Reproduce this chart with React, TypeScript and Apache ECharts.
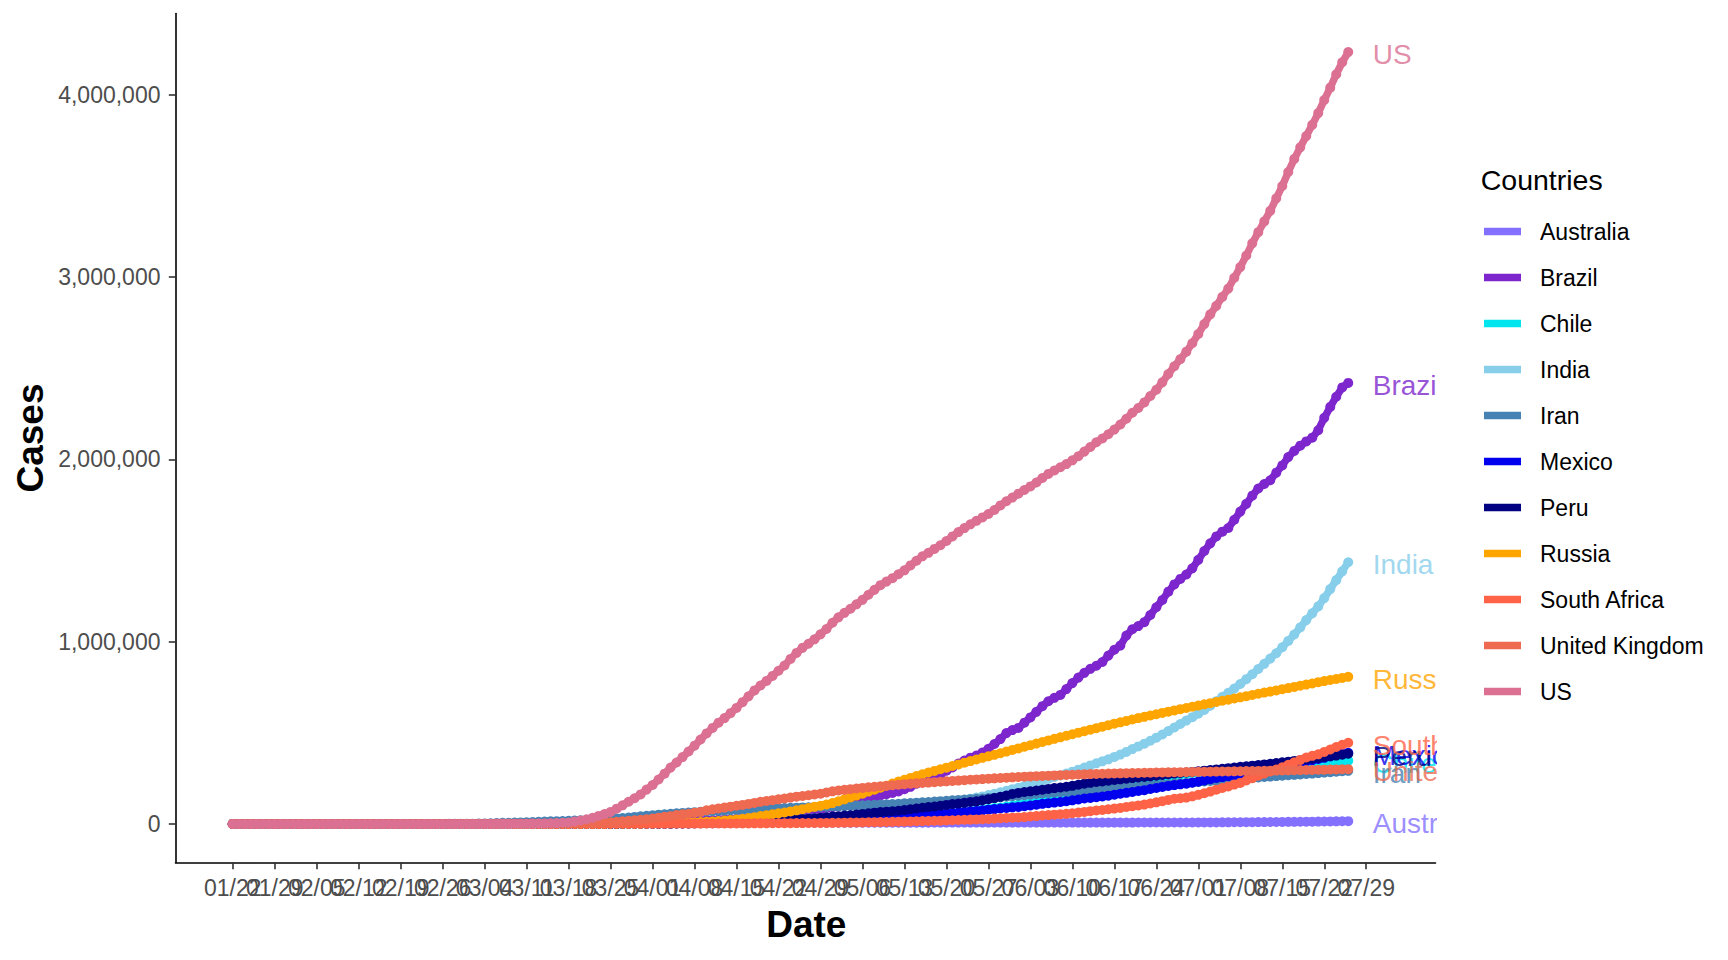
import React, { useEffect, useRef } from "react";
import * as echarts from "echarts";

// Cumulative confirmed cases, in thousands, one value per day from 01/22 to 07/26
const australia = [
  0, 0, 0, 0, 0, 0, 0, 0, 0, 0,
  0, 0, 0, 0, 0, 0, 0, 0, 0, 0, 0, 0, 0, 0, 0, 0, 0, 0, 0, 0, 0, 0, 0, 0, 0, 0, 0, 0, 0,
  0, 0, 0, 0, 0, 0, 0, 0, 0, 0, 0, 0, 0.2, 0.2, 0.3, 0.4, 0.5, 0.6, 0.7, 0.9, 1.1, 1.3, 1.7, 2.1, 2.4, 2.8, 3.2, 3.6, 3.9, 4.2, 4.6,
  4.9, 5.1, 5.3, 5.5, 5.7, 5.8, 5.9, 6.0, 6.1, 6.2, 6.3, 6.3, 6.4, 6.4, 6.5, 6.5, 6.5, 6.6, 6.6, 6.6, 6.6, 6.7, 6.7, 6.7, 6.7, 6.7, 6.7, 6.7, 6.7, 6.8,
  6.8, 6.8, 6.8, 6.8, 6.9, 6.9, 6.9, 6.9, 6.9, 6.9, 6.9, 6.9, 7.0, 7.0, 7.0, 7.0, 7.0, 7.1, 7.1, 7.1, 7.1, 7.1, 7.1, 7.1, 7.1, 7.1, 7.1, 7.1, 7.2, 7.2, 7.2,
  7.2, 7.2, 7.2, 7.2, 7.2, 7.3, 7.3, 7.3, 7.3, 7.3, 7.3, 7.3, 7.3, 7.3, 7.4, 7.4, 7.4, 7.4, 7.4, 7.4, 7.5, 7.5, 7.5, 7.5, 7.6, 7.6, 7.7, 7.8, 7.8, 7.9,
  8.0, 8.1, 8.3, 8.4, 8.6, 8.8, 8.9, 9.1, 9.4, 9.6, 9.8, 10.0, 10.3, 10.5, 10.8, 11.2, 11.4, 11.8, 12.1, 12.4, 12.9, 13.3, 13.6, 14.0, 14.4, 14.9,
];

const brazil = [
  0, 0, 0, 0, 0, 0, 0, 0, 0, 0,
  0, 0, 0, 0, 0, 0, 0, 0, 0, 0, 0, 0, 0, 0, 0, 0, 0, 0, 0, 0, 0, 0, 0, 0, 0, 0, 0, 0, 0,
  0, 0, 0, 0, 0, 0, 0, 0, 0, 0, 0, 0, 0.2, 0.2, 0.2, 0.2, 0.3, 0.4, 0.6, 0.9, 1.0, 1.5, 1.9, 2.2, 2.4, 2.9, 3.4, 3.9, 4.3, 4.6, 5.7,
  6.8, 8.0, 9.2, 10.9, 11.1, 12.2, 14.0, 16.2, 18.1, 19.6, 20.7, 22.2, 23.4, 25.3, 28.3, 30.4, 33.7, 36.6, 38.7, 40.7, 43.1, 45.8, 50.0, 54.0, 59.3, 61.9, 66.5, 72.0, 79.4, 87.2,
  92.2, 97.1, 101.8, 108.6, 115.0, 126.6, 135.8, 146.9, 156.1, 162.7, 169.6, 178.2, 190.1, 203.2, 220.3, 233.5, 241.1, 255.4, 271.6, 291.6, 310.1, 330.9, 347.4, 363.2, 374.9, 391.2, 411.8, 438.2, 465.2, 498.4, 514.8,
  526.4, 555.4, 584.0, 614.9, 645.8, 672.8, 691.8, 707.4, 739.5, 772.4, 802.8, 828.8, 850.5, 867.6, 888.3, 923.2, 955.4, 978.1, 1032.9, 1067.6, 1085.0, 1106.5, 1145.9, 1188.6, 1228.1, 1274.0, 1313.7, 1344.1, 1368.2, 1402.0,
  1448.8, 1496.9, 1539.1, 1577.0, 1603.1, 1623.3, 1668.6, 1713.2, 1755.8, 1800.8, 1839.9, 1864.7, 1885.0, 1926.8, 1966.7, 2012.2, 2046.3, 2074.9, 2098.4, 2118.6, 2159.7, 2227.5, 2287.5, 2343.4, 2394.5, 2419.1,
];

const chile = [
  0, 0, 0, 0, 0, 0, 0, 0, 0, 0,
  0, 0, 0, 0, 0, 0, 0, 0, 0, 0, 0, 0, 0, 0, 0, 0, 0, 0, 0, 0, 0, 0, 0, 0, 0, 0, 0, 0, 0,
  0, 0, 0, 0, 0, 0, 0, 0, 0, 0, 0, 0, 0, 0.1, 0.1, 0.2, 0.2, 0.2, 0.3, 0.4, 0.5, 0.6, 0.7, 0.9, 1.1, 1.3, 1.6, 1.9, 2.1, 2.4, 2.7,
  3.0, 3.4, 3.7, 4.2, 4.5, 4.8, 5.1, 5.5, 5.5, 6.0, 6.5, 6.9, 7.2, 7.5, 7.9, 8.3, 8.8, 9.3, 9.7, 10.1, 10.5, 10.8, 11.3, 11.8, 12.3, 12.9, 13.3, 13.8, 14.4, 14.9,
  16.0, 17.0, 18.4, 19.7, 20.6, 22.0, 23.0, 24.6, 26.0, 27.2, 28.9, 30.1, 31.7, 34.4, 37.9, 39.5, 43.8, 46.1, 49.6, 53.6, 57.6, 61.9, 65.4, 69.1, 74.0, 78.0, 82.3, 86.9, 90.6, 94.9, 99.7,
  105.2, 108.7, 113.6, 118.3, 122.5, 127.7, 134.2, 138.8, 142.8, 148.5, 154.1, 160.8, 167.4, 174.3, 179.4, 184.4, 220.6, 225.1, 231.4, 236.7, 242.4, 247.0, 250.8, 254.4, 259.1, 263.4, 267.8, 272.0, 275.6, 279.4,
  282.0, 284.5, 288.1, 291.8, 295.5, 298.6, 301.0, 303.1, 306.2, 309.3, 312.0, 315.0, 317.7, 319.5, 321.2, 323.7, 326.5, 328.8, 330.9, 333.0, 334.7, 336.4, 338.8, 341.3, 343.6, 345.8,
];

const india = [
  0, 0, 0, 0, 0, 0, 0, 0, 0, 0,
  0, 0, 0, 0, 0, 0, 0, 0, 0, 0, 0, 0, 0, 0, 0, 0, 0, 0, 0, 0, 0, 0, 0, 0, 0, 0, 0, 0, 0,
  0, 0, 0, 0, 0, 0, 0, 0, 0, 0, 0, 0, 0, 0, 0.1, 0.1, 0.1, 0.2, 0.2, 0.3, 0.4, 0.4, 0.5, 0.6, 0.7, 0.7, 0.9, 1.0, 1.0, 1.3, 1.4,
  2.0, 2.5, 3.1, 3.6, 4.3, 4.8, 5.3, 5.9, 6.7, 7.6, 8.4, 9.2, 10.5, 11.5, 12.4, 13.4, 14.4, 15.7, 17.6, 18.5, 20.1, 21.4, 23.1, 24.5, 26.3, 27.9, 29.5, 31.3, 33.1, 34.9,
  37.3, 39.7, 42.5, 46.4, 49.4, 52.9, 56.3, 59.7, 62.8, 67.2, 70.8, 74.3, 78.1, 82.0, 85.8, 90.6, 95.7, 100.3, 106.5, 112.0, 118.2, 124.8, 131.4, 138.5, 144.9, 150.8, 158.1, 165.4, 173.5, 181.8, 190.6,
  198.4, 207.6, 216.9, 226.7, 236.2, 246.6, 257.5, 265.9, 276.1, 286.6, 297.5, 309.0, 320.9, 332.4, 343.1, 354.1, 367.3, 380.5, 395.0, 410.5, 425.3, 440.2, 456.2, 473.1, 490.4, 509.0, 528.9, 548.3, 566.8, 585.5,
  604.6, 625.5, 648.3, 673.2, 697.4, 719.7, 742.4, 767.3, 793.8, 820.9, 849.6, 878.3, 906.8, 936.2, 968.9, 1003.8, 1039.1, 1077.9, 1118.0, 1155.3, 1193.1, 1238.6, 1288.1, 1337.0, 1385.5, 1435.5,
];

const iran = [
  0, 0, 0, 0, 0, 0, 0, 0, 0, 0,
  0, 0, 0, 0, 0, 0, 0, 0, 0, 0, 0, 0, 0, 0, 0, 0, 0, 0, 0, 0, 0, 0, 0, 0, 0.1, 0.1, 0.2, 0.4, 0.6,
  1.0, 1.5, 2.3, 2.9, 3.5, 4.7, 5.8, 6.6, 7.2, 8.0, 9.0, 10.1, 11.4, 12.7, 13.9, 15.0, 16.2, 17.4, 18.4, 19.6, 20.6, 21.6, 23.0, 24.8, 27.0, 29.4, 32.3, 35.4, 38.3, 41.5, 44.6,
  47.6, 50.5, 53.2, 55.7, 58.2, 60.5, 62.6, 64.6, 66.2, 68.2, 70.0, 71.7, 73.3, 74.9, 76.4, 78.0, 79.5, 80.9, 82.2, 83.5, 84.8, 86.0, 87.0, 88.2, 89.3, 90.5, 91.5, 92.6, 93.7, 94.6,
  95.6, 96.4, 97.4, 98.6, 100.0, 101.7, 103.1, 104.7, 106.2, 107.6, 109.3, 110.8, 112.7, 114.5, 116.6, 118.4, 120.2, 122.5, 124.6, 126.9, 129.3, 131.7, 133.5, 135.7, 137.7, 139.5, 141.6, 143.8, 146.7, 149.0, 151.5,
  154.4, 157.6, 160.7, 164.3, 167.2, 169.4, 171.8, 173.8, 175.9, 177.9, 180.2, 182.5, 185.0, 187.4, 189.9, 192.4, 195.1, 197.6, 200.3, 202.6, 205.0, 207.5, 210.0, 212.5, 215.1, 217.7, 220.2, 222.7, 225.2, 227.7,
  230.2, 232.9, 235.4, 237.9, 240.4, 243.1, 245.7, 248.4, 250.5, 252.7, 255.1, 257.3, 259.7, 262.2, 264.6, 267.1, 269.4, 271.6, 273.8, 276.2, 278.8, 281.4, 284.0, 286.5, 288.8, 291.2,
];

const mexico = [
  0, 0, 0, 0, 0, 0, 0, 0, 0, 0,
  0, 0, 0, 0, 0, 0, 0, 0, 0, 0, 0, 0, 0, 0, 0, 0, 0, 0, 0, 0, 0, 0, 0, 0, 0, 0, 0, 0, 0,
  0, 0, 0, 0, 0, 0, 0, 0, 0, 0, 0, 0, 0, 0, 0, 0, 0, 0.1, 0.1, 0.2, 0.2, 0.3, 0.3, 0.4, 0.4, 0.6, 0.7, 0.8, 0.8, 1.0, 1.2,
  1.4, 1.5, 1.7, 1.9, 2.1, 2.4, 2.8, 3.2, 3.4, 3.8, 4.2, 4.4, 4.7, 5.0, 5.4, 5.8, 6.3, 6.9, 7.5, 8.3, 8.8, 9.5, 10.5, 11.6, 12.9, 13.8, 14.7, 15.5, 16.8, 19.2,
  20.7, 22.1, 23.5, 24.9, 26.0, 27.6, 29.6, 31.5, 33.5, 35.0, 36.3, 38.3, 40.2, 42.6, 45.0, 47.1, 49.2, 51.6, 54.3, 56.6, 59.6, 62.5, 65.9, 68.6, 71.1, 74.6, 78.0, 81.4, 84.6, 87.5, 90.7,
  93.4, 97.3, 101.2, 105.7, 110.0, 113.6, 117.1, 120.1, 124.3, 129.2, 134.0, 139.2, 142.7, 146.8, 150.3, 154.9, 159.8, 165.5, 170.5, 175.2, 180.5, 185.1, 191.4, 196.8, 203.0, 208.4, 212.8, 216.9, 220.7, 226.1,
  231.8, 238.5, 245.3, 252.2, 256.8, 261.8, 268.0, 275.0, 282.3, 289.2, 295.3, 299.8, 304.4, 311.5, 317.6, 324.0, 331.3, 338.9, 344.2, 349.4, 356.3, 362.3, 370.7, 378.3, 385.0, 390.5,
];

const peru = [
  0, 0, 0, 0, 0, 0, 0, 0, 0, 0,
  0, 0, 0, 0, 0, 0, 0, 0, 0, 0, 0, 0, 0, 0, 0, 0, 0, 0, 0, 0, 0, 0, 0, 0, 0, 0, 0, 0, 0,
  0, 0, 0, 0, 0, 0, 0, 0, 0, 0, 0, 0, 0, 0, 0, 0, 0.1, 0.1, 0.2, 0.2, 0.3, 0.3, 0.4, 0.4, 0.5, 0.6, 0.6, 0.7, 0.9, 1.0, 1.1,
  1.3, 1.4, 1.6, 1.7, 2.3, 2.6, 3.0, 4.3, 5.3, 5.9, 6.8, 7.5, 9.8, 10.3, 11.5, 12.5, 13.5, 14.4, 15.6, 16.3, 17.8, 19.3, 20.9, 21.6, 25.3, 27.5, 28.7, 31.2, 33.9, 37.0,
  40.5, 42.5, 45.9, 47.4, 51.2, 54.8, 58.5, 61.8, 65.0, 67.3, 68.8, 72.1, 76.3, 80.6, 84.5, 88.5, 92.3, 94.9, 99.5, 104.0, 108.8, 111.7, 115.8, 120.0, 124.0, 129.8, 135.9, 141.8, 148.3, 155.7, 164.5,
  170.0, 174.9, 178.9, 183.2, 187.4, 191.8, 196.5, 199.7, 203.7, 208.8, 214.8, 220.7, 225.1, 229.7, 233.0, 237.2, 240.9, 244.4, 247.9, 251.3, 254.9, 257.4, 260.8, 264.7, 268.6, 272.4, 276.0, 279.4, 282.4, 285.2,
  288.5, 292.0, 295.6, 299.1, 302.7, 305.7, 309.3, 312.9, 316.4, 319.6, 322.7, 326.3, 330.1, 333.9, 337.7, 341.6, 345.5, 349.5, 353.6, 357.7, 362.1, 366.6, 371.1, 375.0, 379.9, 384.8,
];

const russia = [
  0, 0, 0, 0, 0, 0, 0, 0, 0, 0,
  0, 0, 0, 0, 0, 0, 0, 0, 0, 0, 0, 0, 0, 0, 0, 0, 0, 0, 0, 0, 0, 0, 0, 0, 0, 0, 0, 0, 0,
  0, 0, 0, 0, 0, 0, 0, 0, 0, 0, 0, 0, 0, 0, 0.1, 0.1, 0.1, 0.1, 0.2, 0.2, 0.3, 0.3, 0.4, 0.5, 0.7, 0.8, 1.0, 1.3, 1.5, 1.8, 2.3,
  2.8, 3.5, 4.1, 4.7, 5.4, 6.3, 7.5, 8.7, 10.1, 11.9, 13.6, 15.8, 18.3, 21.1, 24.5, 27.9, 32.0, 36.8, 42.9, 47.1, 52.8, 58.0, 62.8, 68.6, 74.6, 80.9, 87.1, 93.6, 99.4, 106.5,
  114.4, 124.1, 134.7, 145.3, 155.4, 165.9, 177.2, 187.9, 198.7, 209.7, 221.3, 232.2, 242.3, 252.2, 262.8, 272.0, 281.8, 290.7, 299.9, 308.7, 317.6, 326.4, 335.9, 344.5, 353.4, 362.3, 370.7, 379.1, 387.6, 396.6, 405.8,
  414.3, 423.2, 431.7, 440.5, 449.3, 458.1, 466.7, 475.0, 483.5, 492.0, 500.4, 508.8, 517.1, 525.3, 533.3, 541.5, 549.7, 557.4, 565.1, 572.6, 580.5, 587.5, 594.5, 601.6, 608.7, 615.6, 622.6, 629.4, 636.0, 642.6,
  649.2, 655.8, 662.5, 668.9, 675.5, 681.3, 687.9, 694.2, 700.8, 707.3, 713.9, 720.3, 726.0, 732.5, 739.0, 745.2, 751.6, 758.0, 764.2, 770.3, 777.5, 783.3, 789.2, 795.0, 800.8, 806.6,
];

const southAfrica = [
  0, 0, 0, 0, 0, 0, 0, 0, 0, 0,
  0, 0, 0, 0, 0, 0, 0, 0, 0, 0, 0, 0, 0, 0, 0, 0, 0, 0, 0, 0, 0, 0, 0, 0, 0, 0, 0, 0, 0,
  0, 0, 0, 0, 0, 0, 0, 0, 0, 0, 0, 0, 0, 0, 0.1, 0.1, 0.1, 0.1, 0.2, 0.2, 0.2, 0.3, 0.4, 0.6, 0.7, 0.9, 1.2, 1.2, 1.3, 1.3, 1.4,
  1.4, 1.5, 1.5, 1.6, 1.7, 1.7, 1.7, 1.8, 1.9, 2.0, 2.0, 2.1, 2.3, 2.4, 2.5, 2.6, 2.8, 3.0, 3.2, 3.3, 3.5, 3.6, 3.9, 4.2, 4.4, 4.5, 4.8, 5.0, 5.4, 5.6,
  6.0, 6.3, 6.8, 7.2, 7.6, 8.2, 8.9, 9.4, 10.0, 10.7, 11.4, 12.1, 12.7, 13.5, 14.4, 15.5, 16.4, 17.2, 18.0, 19.1, 20.1, 21.3, 22.6, 23.6, 24.3, 25.9, 27.4, 29.2, 31.0, 32.7, 34.4,
  35.8, 37.5, 40.8, 42.8, 46.0, 48.3, 50.9, 53.0, 55.4, 58.6, 61.9, 65.7, 70.0, 73.5, 76.3, 80.4, 83.9, 87.7, 92.7, 97.3, 101.6, 106.1, 111.8, 118.4, 124.6, 131.8, 138.1, 141.0, 144.3, 151.2,
  159.3, 168.1, 177.1, 188.0, 196.8, 205.7, 215.9, 224.7, 238.3, 250.7, 264.2, 276.2, 287.8, 298.3, 311.0, 324.2, 337.6, 350.9, 364.3, 373.6, 381.8, 394.9, 408.1, 422.0, 434.2, 445.4,
];

const unitedKingdom = [
  0, 0, 0, 0, 0, 0, 0, 0, 0, 0,
  0, 0, 0, 0, 0, 0, 0, 0, 0, 0, 0, 0, 0, 0, 0, 0, 0, 0, 0, 0, 0, 0, 0, 0, 0, 0, 0, 0, 0,
  0, 0, 0, 0, 0.1, 0.2, 0.2, 0.3, 0.3, 0.4, 0.5, 0.6, 0.8, 1.1, 1.1, 1.5, 2.0, 2.6, 2.7, 4.0, 5.1, 5.7, 6.7, 8.1, 9.6, 11.8, 14.6, 17.3, 19.8, 22.4, 25.5,
  29.9, 34.2, 38.7, 42.5, 48.4, 52.3, 55.9, 61.5, 65.9, 74.6, 79.9, 85.2, 89.6, 94.8, 99.5, 104.1, 109.8, 115.3, 121.2, 125.9, 130.2, 134.6, 139.2, 144.6, 149.6, 153.0, 157.1, 161.1, 165.2, 172.5,
  178.7, 183.5, 187.0, 190.5, 194.0, 197.3, 200.5, 203.5, 206.5, 209.5, 212.5, 215.3, 218.0, 220.3, 222.5, 224.7, 226.9, 229.1, 231.3, 233.5, 235.7, 237.8, 239.9, 242.0, 244.0, 246.0, 248.0, 250.0, 252.0, 253.8, 255.6,
  257.3, 259.0, 260.5, 262.0, 263.4, 264.8, 266.1, 267.4, 268.6, 269.8, 271.0, 272.1, 273.2, 274.2, 275.1, 276.0, 276.8, 277.6, 278.4, 279.1, 279.8, 280.5, 281.2, 281.8, 282.4, 283.0, 283.5, 284.0, 284.5, 285.0,
  285.5, 286.0, 286.5, 287.0, 287.5, 288.0, 288.5, 289.0, 289.6, 290.1, 290.7, 291.3, 291.9, 292.5, 293.1, 293.8, 294.5, 295.1, 295.7, 296.3, 296.9, 297.6, 298.3, 299.0, 299.7, 300.4,
];

const us = [
  0, 0, 0, 0, 0, 0, 0, 0, 0, 0,
  0, 0, 0, 0, 0, 0, 0, 0, 0, 0, 0, 0, 0, 0, 0, 0, 0, 0, 0, 0, 0, 0, 0, 0, 0, 0, 0, 0, 0,
  0.1, 0.1, 0.1, 0.2, 0.2, 0.3, 0.4, 0.5, 0.7, 1.0, 1.3, 1.7, 2.2, 2.7, 3.5, 4.6, 6.4, 7.8, 13.7, 19.1, 25.5, 33.3, 43.8, 53.7, 65.8, 83.8, 101.7, 121.5, 140.9, 161.8, 188.2,
  213.2, 243.6, 275.4, 308.9, 337.1, 366.7, 397.0, 429.1, 462.8, 496.5, 526.4, 555.3, 580.6, 607.7, 636.4, 667.8, 700.0, 732.2, 759.1, 784.3, 811.9, 840.4, 869.2, 905.3, 938.2, 965.8, 988.2, 1012.6, 1039.9, 1069.4,
  1103.5, 1133.1, 1158.0, 1180.4, 1204.4, 1229.3, 1257.0, 1283.9, 1309.5, 1329.3, 1347.9, 1369.6, 1390.8, 1417.9, 1443.4, 1467.8, 1486.8, 1508.3, 1528.6, 1551.9, 1577.1, 1600.9, 1622.6, 1643.2, 1662.4, 1681.2, 1699.9, 1721.8, 1747.1, 1770.2, 1790.2,
  1811.4, 1831.8, 1851.5, 1872.7, 1897.4, 1920.1, 1938.8, 1956.4, 1973.9, 1994.3, 2017.0, 2042.6, 2067.4, 2093.4, 2114.0, 2137.7, 2163.2, 2191.1, 2222.6, 2255.3, 2281.3, 2312.3, 2347.5, 2381.4, 2422.3, 2467.8, 2510.3, 2549.3, 2590.6, 2636.5,
  2687.6, 2742.0, 2795.2, 2841.9, 2891.1, 2936.8, 2996.1, 3054.7, 3117.9, 3184.6, 3245.9, 3304.9, 3363.1, 3431.6, 3499.3, 3576.2, 3647.7, 3711.4, 3773.3, 3834.7, 3899.2, 3970.9, 4038.8, 4112.5, 4178.0, 4233.9,
];

const countries = ["Australia", "Brazil", "Chile", "India", "Iran", "Mexico", "Peru", "Russia", "South Africa", "United Kingdom", "US"];
const casesThousands = [australia, brazil, chile, india, iran, mexico, peru, russia, southAfrica, unitedKingdom, us];

const xTickLabels = ["01/22", "01/29", "02/05", "02/12", "02/19", "02/26", "03/04", "03/11", "03/18", "03/25", "04/01", "04/08", "04/15", "04/22", "04/29", "05/06", "05/13", "05/20", "05/27", "06/03", "06/10", "06/17", "06/24", "07/01", "07/08", "07/15", "07/22", "07/29"];
const yTickValues = [0, 1000000, 2000000, 3000000, 4000000];
const yTickLabels = ["0", "1,000,000", "2,000,000", "3,000,000", "4,000,000"];

// styling
const palette = ["#8470FF", "#7D26CD", "#00E5EE", "#87CEEB", "#4682B4", "#0000EE", "#000080", "#FFA500", "#FF6347", "#EE6A50", "#DB7093"];
const FONT = "'Liberation Sans', Arial, Helvetica, sans-serif";
const LABEL_DAY = 190;
const X_MIN = -9.55;
const X_MAX = 200.55;

export default function App() {
  const ref = useRef<HTMLDivElement>(null);

  useEffect(() => {
    if (!ref.current) return;
    const chart = echarts.init(ref.current, undefined, { renderer: "svg" });

    const tickDays = xTickLabels.map((_, i) => i * 7);
    const evenDays = tickDays.filter((_, i) => i % 2 === 0);
    const oddDays = tickDays.filter((_, i) => i % 2 === 1);
    let peak = 0;
    casesThousands.forEach((arr) => arr.forEach((v) => { if (v * 1000 > peak) peak = v * 1000; }));

    const xLabelStyle = {
      formatter: (v: number) => xTickLabels[Math.round(v / 7)] ?? "",
      color: "#4D4D4D",
      fontSize: 23,
      fontFamily: FONT,
      margin: 13.5,
      hideOverlap: false,
      showMinLabel: true,
      showMaxLabel: true,
    };

    const lineSeries = countries.map((name, ci) => ({
      name,
      type: "line",
      xAxisIndex: 0,
      data: casesThousands[ci].map((v, i) => [i, v * 1000]),
      symbol: "circle",
      symbolSize: 10,
      showSymbol: true,
      showAllSymbol: true,
      lineStyle: { width: 7.4, color: palette[ci] },
      itemStyle: { color: palette[ci] },
      emphasis: { disabled: true },
      silent: true,
      z: 2,
    }));

    const labelSeries = {
      name: "endLabels",
      type: "scatter",
      xAxisIndex: 0,
      symbolSize: 1,
      itemStyle: { color: "rgba(0,0,0,0)" },
      silent: true,
      z: 3,
      data: countries.map((name, ci) => {
        const arr = casesThousands[ci];
        return {
          name,
          value: [LABEL_DAY, arr[arr.length - 1] * 1000],
          label: { color: palette[ci] },
        };
      }),
      label: {
        show: true,
        position: "right",
        distance: 0,
        offset: [0, 2.5],
        formatter: "{b}",
        fontSize: 28,
        fontFamily: FONT,
      },
    };

    chart.setOption({
      animation: false,
      backgroundColor: "#ffffff",
      textStyle: { fontFamily: FONT },
      grid: { left: 175.5, top: 13.5, width: 1260, height: 849, containLabel: false },
      xAxis: [
        {
          type: "value",
          position: "bottom",
          min: X_MIN,
          max: X_MAX,
          axisLine: { show: true, onZero: false, lineStyle: { color: "#000000", width: 1.6 } },
          axisTick: { show: true, customValues: tickDays, length: 6.7, lineStyle: { color: "#333333", width: 1.6 } },
          axisLabel: { ...xLabelStyle, customValues: evenDays },
          splitLine: { show: false },
        },
        {
          type: "value",
          position: "bottom",
          offset: 0,
          min: X_MIN,
          max: X_MAX,
          axisLine: { show: false, onZero: false },
          axisTick: { show: false },
          axisLabel: { ...xLabelStyle, customValues: oddDays },
          splitLine: { show: false },
        },
      ],
      yAxis: {
        type: "value",
        min: -0.05 * peak,
        max: 1.05 * peak,
        axisLine: { show: true, onZero: false, lineStyle: { color: "#000000", width: 1.6 } },
        axisTick: { show: true, customValues: yTickValues, length: 6.7, lineStyle: { color: "#333333", width: 1.6 } },
        axisLabel: {
          customValues: yTickValues,
          formatter: (v: number) => {
            const idx = yTickValues.indexOf(Math.round(v));
            return idx >= 0 ? yTickLabels[idx] : "";
          },
          color: "#4D4D4D",
          fontSize: 23,
          fontFamily: FONT,
          margin: 15,
          padding: [5, 0, 0, 0],
          showMinLabel: true,
          showMaxLabel: true,
        },
        splitLine: { show: false },
      },
      legend: {
        data: countries,
        orient: "vertical",
        left: 1484,
        top: 218.5,
        padding: 0,
        itemWidth: 37,
        itemHeight: 7.3,
        itemGap: 20,
        icon: "rect",
        selectedMode: false,
        z: 200,
        textStyle: { fontSize: 23, color: "#000000", fontFamily: FONT, lineHeight: 26, padding: [0, 0, 0, 14] },
      },
      graphic: [
        {
          type: "rect",
          z: 100,
          silent: true,
          shape: { x: 1437, y: 0, width: 291, height: 960 },
          style: { fill: "#ffffff" },
        },
        {
          type: "text",
          z: 201,
          x: 806.3,
          y: 924,
          style: { text: "Date", font: `bold 37px ${FONT}`, fill: "#000000", align: "center", verticalAlign: "middle", textAlign: "center", textVerticalAlign: "middle" },
        },
        {
          type: "text",
          z: 201,
          x: 30,
          y: 438,
          rotation: Math.PI / 2,
          style: { text: "Cases", font: `bold 37px ${FONT}`, fill: "#000000", align: "center", verticalAlign: "middle", textAlign: "center", textVerticalAlign: "middle" },
        },
        {
          type: "text",
          z: 201,
          x: 1480.7,
          y: 180.3,
          style: { text: "Countries", font: `28.5px ${FONT}`, fill: "#000000", align: "left", verticalAlign: "middle", textAlign: "left", textVerticalAlign: "middle" },
        },
      ],
      series: [...lineSeries, labelSeries],
    });

    return () => chart.dispose();
  }, []);

  return (
    <div
      ref={ref}
      style={{ position: "absolute", left: 0, top: 0, width: 1728, height: 960, background: "#ffffff" }}
    />
  );
}
